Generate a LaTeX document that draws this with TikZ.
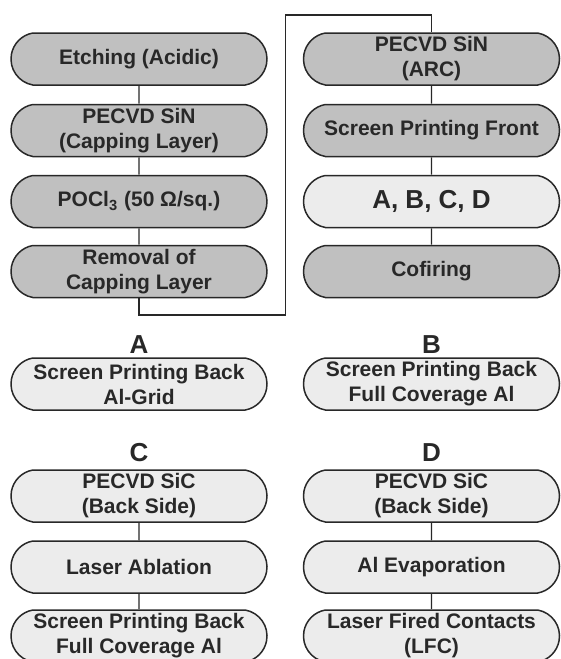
\documentclass[tikz,border=0pt]{standalone}
\usepackage{fontspec}
\setmainfont{Liberation Sans}
\usetikzlibrary{shapes.misc}

\definecolor{stepdark}{RGB}{192,192,192}
\definecolor{steplight}{RGB}{236,236,236}
\definecolor{inkgray}{RGB}{40,40,40}

\tikzset{
  proc/.style={rounded rectangle, rounded rectangle arc length=160,
    draw=inkgray, line width=0.75pt, minimum width=128pt, minimum height=26pt,
    inner sep=0pt, align=center, text=inkgray,
    font=\fontsize{10.5}{12.5}\selectfont\bfseries},
  procdark/.style={proc, fill=stepdark},
  proclight/.style={proc, fill=steplight},
  link/.style={draw=inkgray, line width=0.6pt},
  tag/.style={text=inkgray, inner sep=0pt, font=\fontsize{13}{13}\selectfont\bfseries},
}

\begin{document}
\begin{tikzpicture}[x=0.5pt,y=-0.5pt]
    \useasboundingbox (0,0) rectangle (561,659);%

    \def\xl{139} \def\xr{431.5}%

    % front side sequence
    \node[procdark] (l1) at (\xl,59) {Etching (Acidic)};
    \node[procdark] (l2) at (\xl,130.5) {PECVD SiN\\(Capping Layer)};
    \node[procdark] (l3) at (\xl,201.5) {POCl\textsubscript{3} (50 Ω/sq.)};
    \node[procdark] (l4) at (\xl,271.5) {Removal of\\Capping Layer};

    \node[procdark] (r1) at (\xr,59) {PECVD SiN\\(ARC)};
    \node[procdark] (r2) at (\xr,130.5) {Screen Printing Front};
    \node[proclight, font=\fontsize{13}{15}\selectfont\bfseries] (r3) at (\xr,201.5) {A, B, C, D};
    \node[procdark] (r4) at (\xr,271.5) {Cofiring};

    \foreach \c in {l, r} { \foreach \i/\j in {1/2, 2/3, 3/4} {%
        \draw[link] (\c\i) -- (\c\j); } }%

    \coordinate (turnlow) at (285.5,315);
    \coordinate (turnhigh) at (285.5,15);
    \draw[link] (l4.south) |- (turnlow) -- (turnhigh) -| (r1.north);

    % back side variants
    \node[tag] (ta) at (\xl,344.5) {A};
    \node[proclight] (a1) at (\xl,384) {Screen Printing Back\\Al-Grid};
    \node[tag] (tb) at (\xr,344.5) {B};
    \node[proclight] (b1) at (\xr,384) {Screen Printing Back\\Full Coverage Al};

    \node[tag] (tc) at (\xl,453) {C};
    \node[proclight] (c1) at (\xl,496) {PECVD SiC\\(Back Side)};
    \node[proclight] (c2) at (\xl,567) {Laser Ablation};
    \node[proclight] (c3) at (\xl,636) {Screen Printing Back\\Full Coverage Al};

    \node[tag] (td) at (\xr,453) {D};
    \node[proclight] (d1) at (\xr,496) {PECVD SiC\\(Back Side)};
    \node[proclight] (d2) at (\xr,567) {Al Evaporation};
    \node[proclight] (d3) at (\xr,636) {Laser Fired Contacts\\(LFC)};

    \foreach \c in {c, d} { \foreach \i/\j in {1/2, 2/3} {%
        \draw[link] (\c\i) -- (\c\j); } }%
\end{tikzpicture}
\end{document}
